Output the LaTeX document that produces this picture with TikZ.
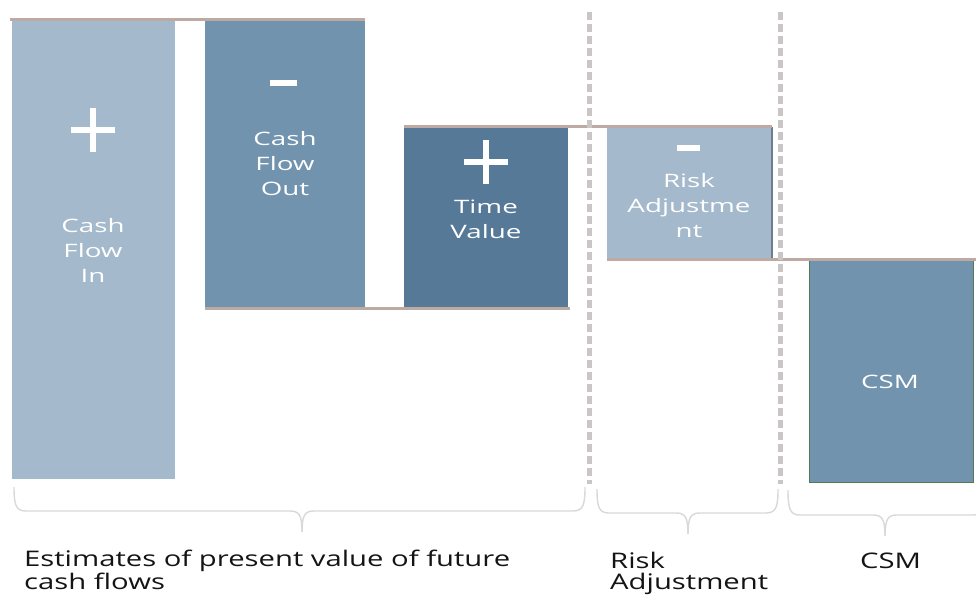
\documentclass[tikz,border=0pt]{standalone}
\usepackage{fontspec}
\setmainfont[FakeStretch=1.36]{Open Sans}
\newfontfamily\barfont[FakeStretch=1.5]{Open Sans}
\usepackage{xcolor}
\usepackage{tikz}
\usetikzlibrary{positioning}
\definecolor{barLight}{RGB}{164,185,203}
\definecolor{barMid}{RGB}{113,147,174}
\definecolor{barDark}{RGB}{85,121,151}
\definecolor{stepGray}{RGB}{189,170,162}
\definecolor{sepGray}{RGB}{202,198,197}
\definecolor{braceGray}{RGB}{216,216,216}
\definecolor{csmEdge}{RGB}{84,122,88}
\definecolor{raEdge}{RGB}{110,126,140}
\definecolor{footText}{RGB}{20,20,20}

\begin{document}
\begin{tikzpicture}[x=1pt,y=-1pt,
  bar/.style={anchor=north west, inner sep=0pt, outer sep=0pt},
  barText/.style={text=white, align=center, inner sep=0pt, font=\barfont\fontsize{18.5}{25}\selectfont},
  sign/.style={white, line width=6pt},
  stepLine/.style={stepGray, line width=3pt},
  sepLine/.style={sepGray, line width=5pt, dash pattern=on 8pt off 4pt},
  bracket/.style={braceGray, line width=1.4pt},
  footLabel/.style={anchor=base west, align=left, inner sep=0pt, text=footText, font=\fontsize{21.5}{21.5}\selectfont}]
\useasboundingbox (0,0) rectangle (976,596);

% bars of the waterfall
\node[bar, fill=barLight, minimum width=163pt, minimum height=459pt] (in) at (12,20) {};
\node[bar, fill=barMid, minimum width=160pt, minimum height=288pt] (out) at (205,20) {};
\node[bar, fill=barDark, minimum width=164pt, minimum height=181pt] (tv) at (404,127) {};
\node[bar, fill=barLight, minimum width=165pt, minimum height=132pt] (ra) at (607,127) {};
\node[bar, fill=barMid, draw=csmEdge, line width=1pt, minimum width=164pt, minimum height=223pt] (csm) at (809,259) {};
\draw[raEdge, line width=1.5pt] (ra.north east) -- (ra.south east);

% steps between bars
\draw[stepLine] ([xshift=-2pt]in.north west) -- (out.north east);
\draw[stepLine] (out.south west) -- ([xshift=2pt]tv.south east);
\draw[stepLine] (tv.north west) -- (ra.north east);
\draw[stepLine] (ra.south west) -- ([xshift=4pt]csm.north east);

% group separators
\draw[sepLine] (589,12) -- (589,484);
\draw[sepLine] (780,12) -- (780,484);

% signs
\draw[sign] (71,130) -- (115,130) (93,108) -- (93,152);
\draw[sign] (270,83) -- (297,83);
\draw[sign] (464,162) -- (508,162) (486,140) -- (486,184);
\draw[sign] (677,148) -- (700,148);

% bar labels
\node[barText] (inTxt) at (93,250) {Cash\\Flow\\In};
\node[barText] (outTxt) at (285,164) {Cash\\Flow\\Out};
\node[barText] (tvTxt) at (486,219) {Time\\Value};
\node[barText] (raTxt) at (689,206) {Risk\\Adjustme\\nt};
\node[barText] (csmTxt) at (890,382) {CSM};

% braces under the groups
\draw[bracket] (14,487) .. controls (14,505) and (16,511) .. (26,511) -- (290,511)
  .. controls (299,511) and (302,515) .. (302,532);
\draw[bracket] (585,487) .. controls (585,505) and (583,511) .. (573,511) -- (314,511)
  .. controls (305,511) and (302,515) .. (302,532);
\draw[bracket] (597,489) .. controls (597,507) and (599,513) .. (609,513) -- (676,513)
  .. controls (685,513) and (688,517) .. (688,534);
\draw[bracket] (778,489) .. controls (778,507) and (776,513) .. (766,513) -- (700,513)
  .. controls (691,513) and (688,517) .. (688,534);
\draw[bracket] (788,490) .. controls (788,509) and (790,515) .. (800,515) -- (873,515)
  .. controls (882,515) and (885,519) .. (885,536);
\draw[bracket] (985,490) .. controls (985,509) and (983,515) .. (973,515) -- (897,515)
  .. controls (888,515) and (885,519) .. (885,536);

\node[footLabel] (pvLbl) at (24,589.5) {Estimates of present value of future\\cash flows};
\node[footLabel] (raLbl) at (610,589.5) {Risk\\Adjustment};
\node[footLabel] (csmLbl) at (860,568) {CSM};
\end{tikzpicture}
\end{document}
